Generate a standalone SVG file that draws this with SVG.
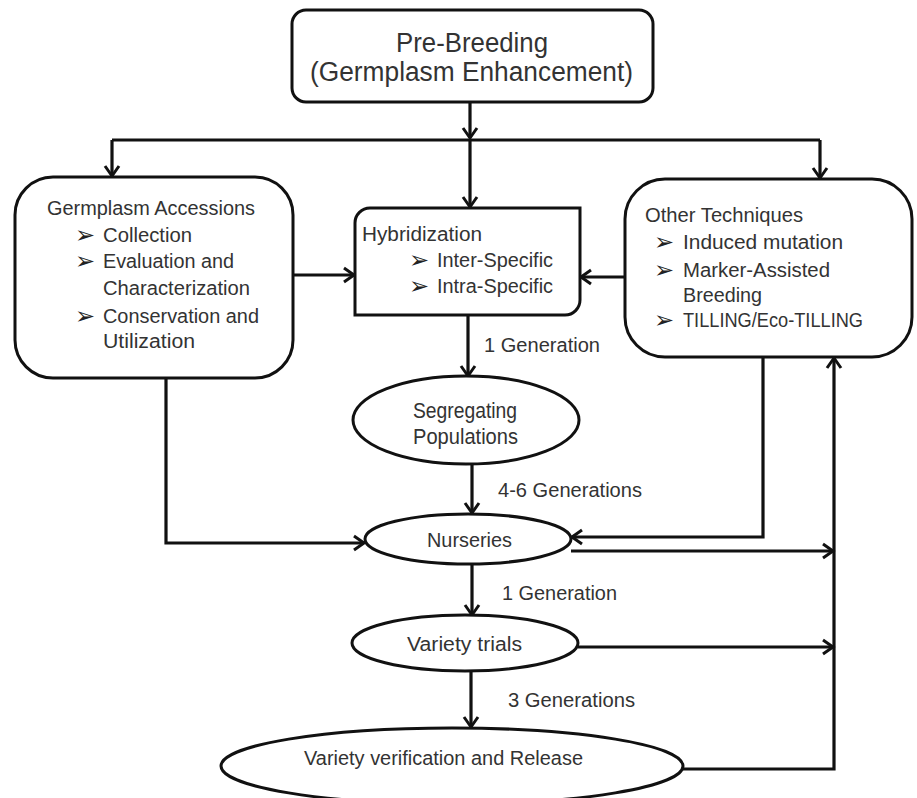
<svg xmlns="http://www.w3.org/2000/svg" width="917" height="798" viewBox="0 0 917 798">
<style>
.box{fill:#fff;stroke:#111;stroke-width:3}
.ln{fill:none;stroke:#111;stroke-width:3.2}
.t{font-family:"Liberation Sans",Arial,sans-serif;font-size:20px;fill:#333}
.big{font-size:27px}
.mid{font-size:22px}
.b{font-family:"DejaVu Sans",sans-serif;font-size:24px;fill:#222}
</style>
<defs>
<marker id="ar" markerUnits="userSpaceOnUse" viewBox="-12 -9 14 18" refX="0" refY="0" markerWidth="14" markerHeight="18" orient="auto" overflow="visible">
<path d="M-10,-7 L0,0 L-10,7" fill="none" stroke="#111" stroke-width="3"/>
</marker>
</defs>
<rect width="917" height="798" fill="#fff"/>
<g id="connectors">
<path class="ln" d="M470,102 L470,138" marker-end="url(#ar)"/>
<path class="ln" d="M112,140 L820,140"/>
<path class="ln" d="M112,140 L112,176" marker-end="url(#ar)"/>
<path class="ln" d="M470,140 L470,207" marker-end="url(#ar)"/>
<path class="ln" d="M820,140 L820,178" marker-end="url(#ar)"/>
<path class="ln" d="M293,275 L354,275" marker-end="url(#ar)"/>
<path class="ln" d="M625,277 L581,277" marker-end="url(#ar)"/>
<path class="ln" d="M468,315 L468,376" marker-end="url(#ar)"/>
<path class="ln" d="M472,464 L472,513" marker-end="url(#ar)"/>
<path class="ln" d="M166,379 L166,543 L364,543" marker-end="url(#ar)"/>
<path class="ln" d="M763,357 L763,537 L572,537" marker-end="url(#ar)"/>
<path class="ln" d="M571,551 L833,551" marker-end="url(#ar)"/>
<path class="ln" d="M472,564 L472,615" marker-end="url(#ar)"/>
<path class="ln" d="M578,647 L833,647" marker-end="url(#ar)"/>
<path class="ln" d="M471,671 L471,727" marker-end="url(#ar)"/>
<path class="ln" d="M683,769 L834,769 L834,358" marker-end="url(#ar)"/>
<text class="t" x="484" y="352" textLength="116" lengthAdjust="spacingAndGlyphs">1 Generation</text>
<text class="t" x="498" y="497" textLength="144" lengthAdjust="spacingAndGlyphs">4-6 Generations</text>
<text class="t" x="502" y="600" textLength="115" lengthAdjust="spacingAndGlyphs">1 Generation</text>
<text class="t" x="508" y="707" textLength="127" lengthAdjust="spacingAndGlyphs">3 Generations</text>
</g>
<g id="prebreeding">
<rect class="box" x="292" y="10" width="361" height="92" rx="14"/>
<text class="t big" x="396" y="52" textLength="152" lengthAdjust="spacingAndGlyphs">Pre-Breeding</text>
<text class="t big" x="310" y="81" textLength="323" lengthAdjust="spacingAndGlyphs">(Germplasm Enhancement)</text>
</g>
<g id="germplasm">
<rect class="box" x="15" y="177" width="278" height="201" rx="38"/>
<text class="t" x="47" y="215" textLength="208" lengthAdjust="spacingAndGlyphs">Germplasm Accessions</text>
<text class="b" x="75" y="243">➢</text>
<text class="t" x="103" y="242" textLength="89" lengthAdjust="spacingAndGlyphs">Collection</text>
<text class="b" x="75" y="269">➢</text>
<text class="t" x="103" y="268" textLength="131" lengthAdjust="spacingAndGlyphs">Evaluation and</text>
<text class="t" x="103" y="295" textLength="147" lengthAdjust="spacingAndGlyphs">Characterization</text>
<text class="b" x="75" y="324">➢</text>
<text class="t" x="103" y="323" textLength="156" lengthAdjust="spacingAndGlyphs">Conservation and</text>
<text class="t" x="103" y="348" textLength="92" lengthAdjust="spacingAndGlyphs">Utilization</text>
</g>
<g id="hybridization">
<path class="box" d="M355,223 A15,15 0 0 1 370,208 L580,208 L580,300 A15,15 0 0 1 565,315 L355,315 Z"/>
<text class="t" x="362" y="241" textLength="120" lengthAdjust="spacingAndGlyphs">Hybridization</text>
<text class="b" x="409" y="268">➢</text>
<text class="t" x="437" y="267" textLength="116" lengthAdjust="spacingAndGlyphs">Inter-Specific</text>
<text class="b" x="409" y="294">➢</text>
<text class="t" x="437" y="293" textLength="116" lengthAdjust="spacingAndGlyphs">Intra-Specific</text>
</g>
<g id="other">
<rect class="box" x="625" y="179" width="287" height="178" rx="40"/>
<text class="t" x="645" y="222" textLength="158" lengthAdjust="spacingAndGlyphs">Other Techniques</text>
<text class="b" x="654" y="250">➢</text>
<text class="t" x="683" y="249" textLength="160" lengthAdjust="spacingAndGlyphs">Induced mutation</text>
<text class="b" x="654" y="278">➢</text>
<text class="t" x="683" y="277" textLength="147" lengthAdjust="spacingAndGlyphs">Marker-Assisted</text>
<text class="t" x="683" y="302" textLength="79" lengthAdjust="spacingAndGlyphs">Breeding</text>
<text class="b" x="654" y="328">➢</text>
<text class="t" x="683" y="327" textLength="180" lengthAdjust="spacingAndGlyphs">TILLING/Eco-TILLING</text>
</g>
<g id="segregating">
<ellipse class="box" cx="466" cy="420" rx="113" ry="44"/>
<text class="t mid" x="413" y="418" textLength="104" lengthAdjust="spacingAndGlyphs">Segregating</text>
<text class="t mid" x="413" y="444" textLength="105" lengthAdjust="spacingAndGlyphs">Populations</text>
</g>
<g id="nurseries">
<ellipse class="box" cx="468" cy="539" rx="103" ry="25"/>
<text class="t" x="427" y="547" textLength="85" lengthAdjust="spacingAndGlyphs">Nurseries</text>
</g>
<g id="trials">
<ellipse class="box" cx="465" cy="643" rx="113" ry="28"/>
<text class="t" x="407" y="651" textLength="115" lengthAdjust="spacingAndGlyphs">Variety trials</text>
</g>
<g id="release">
<ellipse class="box" cx="452" cy="766" rx="231" ry="38"/>
<text class="t" x="304" y="765" textLength="279" lengthAdjust="spacingAndGlyphs">Variety verification and Release</text>
</g>
</svg>
